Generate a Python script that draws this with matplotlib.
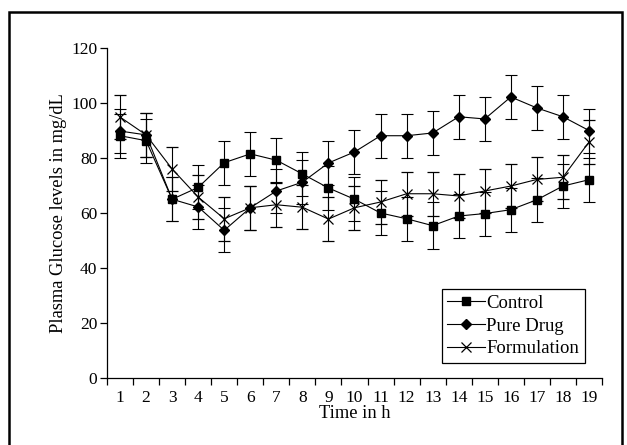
import matplotlib
matplotlib.use("Agg")
import matplotlib.pyplot as plt
from matplotlib.patches import Rectangle
import numpy as np

hours = list(range(1, 20))
tick_labels = [str(h) for h in hours]

control = [88.1, 86.3, 65.0, 69.3, 78.3, 81.5, 79.2, 74.2, 69.1, 65.0,
           60.0, 57.9, 55.4, 58.9, 59.8, 61.2, 64.8, 69.8, 72.1]
control_err = [8, 8, 8, 8, 8, 8, 8, 8, 8, 8, 8, 8, 8.5, 8, 8, 8, 8, 8, 8]

pure_drug = [89.8, 88.4, 65.0, 62.2, 53.7, 61.9, 68.0, 71.2, 78.2, 82.2,
             88.1, 88.1, 89.1, 95.0, 94.2, 102.2, 98.2, 95.0, 90.0]
pure_drug_err = [8, 8, 8, 8, 8, 8, 8, 8, 8, 8, 8, 8, 8, 8, 8, 8, 8, 8, 8]

formulation = [94.9, 88.4, 76.0, 65.8, 57.9, 61.9, 63.0, 62.1, 57.8, 61.9,
               64.0, 67.0, 67.0, 66.2, 68.0, 69.8, 72.2, 73.0, 85.8]
formulation_err = [8, 8, 8, 8, 8, 8, 8, 8, 8, 8, 8, 8, 8, 8, 8, 8, 8, 8, 8]

series_names = ["Control", "Pure Drug", "Formulation"]

plt.rcParams['font.family'] = ['Liberation Serif', 'DejaVu Serif']
plt.rcParams['font.size'] = 12

fig = plt.figure(figsize=(6.27, 4.45), dpi=100)
ax = fig.add_axes([107/627, 1-378/445, (602-107)/627, (378-48)/445])

x = np.array(hours)
common = dict(color='black', lw=0.8, elinewidth=0.8, capsize=4.3, capthick=0.8)
ax.errorbar(x, control, yerr=control_err, marker='s', ms=6,
            label=series_names[0], **common)
ax.errorbar(x, pure_drug, yerr=pure_drug_err, marker='D', ms=5,
            label=series_names[1], **common)
ax.errorbar(x, formulation, yerr=formulation_err, marker='x', ms=7, mew=0.9,
            label=series_names[2], **common)

ax.set_xlim(0.5, 19.5)
ax.set_ylim(0, 120)
ax.set_yticks(np.arange(0, 121, 20))
ax.set_xticks(np.arange(0.5, 20, 1))
ax.set_xticklabels([])
ax.set_xticks(x, minor=True)
ax.set_xticklabels(tick_labels, minor=True)
ax.tick_params(axis='x', which='major', direction='out', length=5, width=0.9)
ax.tick_params(axis='x', which='minor', length=0, pad=9, labelsize=12.5)
ax.tick_params(axis='y', direction='out', length=5, width=0.9, pad=2, labelsize=12.5)

for s in ['top', 'right']:
    ax.spines[s].set_visible(False)
for s in ['left', 'bottom']:
    ax.spines[s].set_linewidth(0.9)

ax.set_xlabel("Time in h", labelpad=-1, fontsize=13.3)
ax.set_ylabel("Plasma Glucose levels in mg/dL", labelpad=3, fontsize=13.3)

handles, labels = ax.get_legend_handles_labels()
handles = [h[0] for h in handles]
leg = ax.legend(handles, labels, loc='lower right',
                bbox_to_anchor=((585-107)/495, (378-363)/330),
                borderaxespad=0, fancybox=False, edgecolor='black',
                framealpha=1, numpoints=1, handlelength=2.0,
                handletextpad=0.1, labelspacing=0.3, borderpad=0.3,
                fontsize=13.5)
leg.get_frame().set_linewidth(0.9)

fig.patches.append(Rectangle((9/627, -0.05), (622-9)/627, 1.05-12/445,
                             transform=fig.transFigure, fill=False,
                             edgecolor='black', linewidth=1.8))

fig.savefig("out.png", dpi=100)
